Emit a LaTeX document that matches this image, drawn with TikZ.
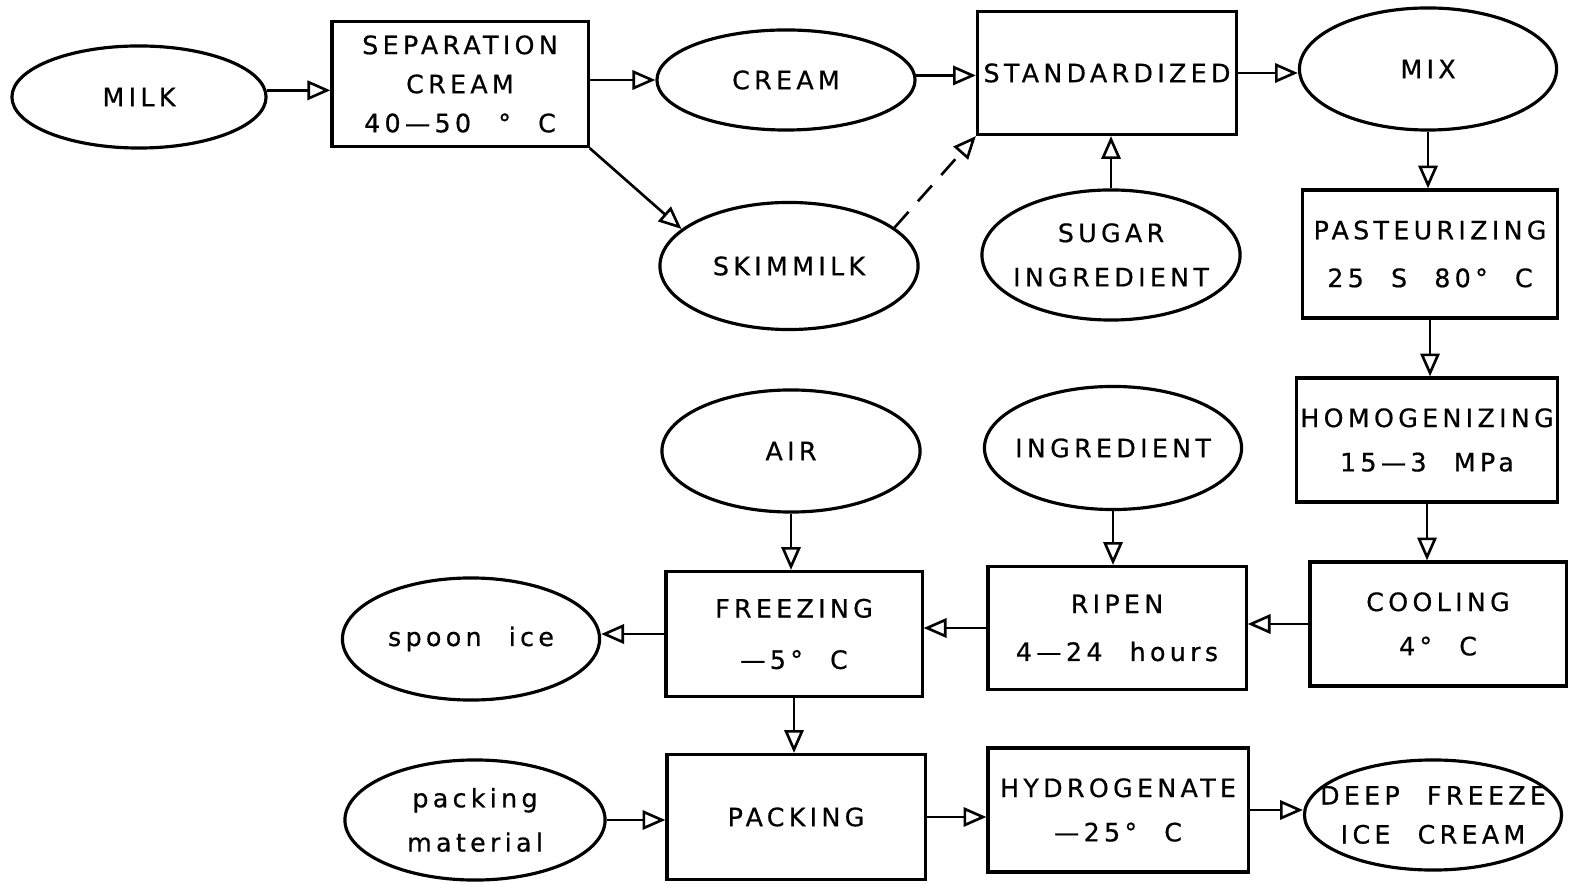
\documentclass[tikz,border=0pt]{standalone}
\usepackage{fontspec}
\usepackage{tikz}
\usetikzlibrary{arrows.meta, positioning, shapes.geometric}
\newfontfamily\lettering{DejaVu Sans}[LetterSpace=17, WordSpace=2.2, FakeBold=0.6]

\begin{document}
\begin{tikzpicture}[
  x=0.01cm, y=-0.01cm,
  font={\lettering\fontsize{7.2pt}{12.6pt}\selectfont},
  box/.style={draw, line width=0.9pt, minimum width=2.58cm,
              minimum height=1.24cm, inner sep=0pt, align=center},
  blob/.style={draw, ellipse, line width=0.9pt, minimum width=2.57cm,
               minimum height=1.22cm, inner sep=0pt},
  every label/.style={align=center},
  arr/.style={-{Triangle[open, length=6.5pt, width=5.5pt]}, line width=0.75pt},
]
  \useasboundingbox (0,0) rectangle (1571,883);

  % top row
  \node[blob, minimum width=2.54cm, minimum height=1.02cm, label=center:MILK] (milk) at (139,97) {};
  \node[box, minimum width=2.56cm, minimum height=1.25cm] (sep) at (460,84) {SEPARATION\\[-1.5pt]CREAM\\[-1.5pt]40—50 ° C};
  \node[blob, minimum width=2.58cm, minimum height=1.00cm, label=center:CREAM] (cream) at (786,80) {};
  \node[blob, minimum width=2.58cm, minimum height=1.27cm, label=center:SKIMMILK] (skim) at (789,266) {};
  \node[box, minimum width=2.59cm, minimum height=1.23cm] (std) at (1107,73) {STANDARDIZED};
  \node[blob, minimum width=2.58cm, minimum height=1.30cm, label={center:SUGAR\\INGREDIENT}] (sugar) at (1111,255) {};
  \node[blob, label=center:MIX] (mix) at (1428,69) {};

  % right column
  \node[box, minimum width=2.55cm, minimum height=1.28cm] (past) at (1430,254) {PASTEURIZING\\[1pt]25 S 80° C};
  \node[box, minimum width=2.61cm] (homog) at (1427,440) {HOMOGENIZING\\15—3 MPa};
  \node[box, minimum width=2.56cm] (cool) at (1438,624) {COOLING\\4° C};

  % middle row
  \node[box, minimum height=1.23cm] (ripen) at (1117,628) {RIPEN\\[1pt]4—24 hours};
  \node[box, minimum width=2.56cm, minimum height=1.25cm] (freez) at (794,634) {FREEZING\\[2pt]—5° C};
  \node[blob, minimum width=2.58cm, label=center:AIR] (air) at (791,451) {};
  \node[blob, minimum height=1.23cm, label=center:INGREDIENT] (ingr) at (1113,448) {};
  \node[blob, label=center:spoon ice] (spoon) at (471,639) {};

  % bottom row
  \node[blob, minimum width=2.60cm, minimum height=1.20cm, label={center:packing\\material}] (packmat) at (475,820) {};
  \node[box, minimum height=1.25cm] (pack) at (796,817) {PACKING};
  \node[box, minimum width=2.60cm] (hydro) at (1118,810) {HYDROGENATE\\—25° C};
  \node[blob, minimum height=1.10cm, label={center:DEEP FREEZE\\[-1.5pt]ICE CREAM}] (deep) at (1433,815) {};

  \draw[arr] (milk.3) -- (milk.3 -| sep.west);
  \draw[arr] (cream.west -| sep.east) -- (cream.west);
  \draw[arr] (sep.south east) -- (skim.161);
  \draw[arr, dash pattern=on 6pt off 4pt] (skim.20) -- (std.south west);
  \draw[arr] (cream.2) -- (cream.2 -| std.west);
  \draw[arr] (sugar.north) -- (sugar.north |- std.south);
  \draw[arr] (std.east) -- (std.east -| mix.west);
  \draw[arr] (mix.south) -- (mix.south |- past.north);
  \draw[arr] (past.south) -- (past.south |- homog.north);
  \draw[arr] (homog.south) -- (homog.south |- cool.north);
  \draw[arr] (cool.west) -- (cool.west -| ripen.east);
  \draw[arr] (ripen.west) -- (ripen.west -| freez.east);
  \draw[arr] (ingr.south) -- (ingr.south |- ripen.north);
  \draw[arr] (air.south) -- (air.south |- freez.north);
  \draw[arr] (freez.west) -- (freez.west -| spoon.east);
  \draw[arr] (freez.south) -- (freez.south |- pack.north);
  \draw[arr] (packmat.east) -- (packmat.east -| pack.west);
  \draw[arr] (pack.east) -- (pack.east -| hydro.west);
  \draw[arr] (hydro.east) -- (hydro.east -| deep.west);
\end{tikzpicture}
\end{document}
